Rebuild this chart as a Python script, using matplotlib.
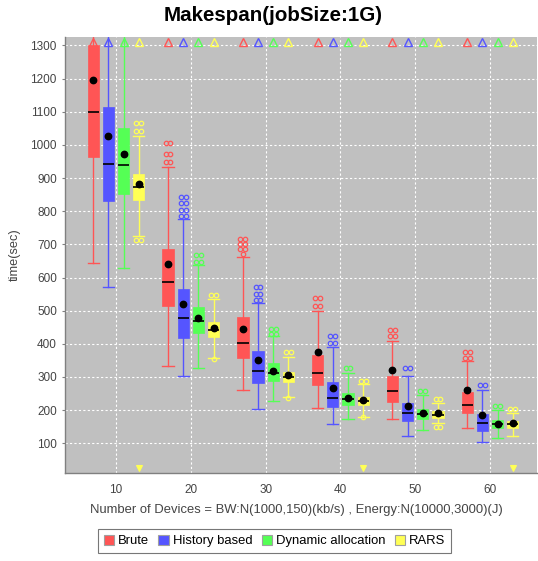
import matplotlib
matplotlib.use('Agg')
import matplotlib.pyplot as plt
from matplotlib.patches import Patch

plt.rcParams['font.family'] = ['Liberation Sans', 'DejaVu Sans']

categories = [10, 20, 30, 40, 50, 60]
series = ['Brute', 'History based', 'Dynamic allocation', 'RARS']
colors = ['#ff5555', '#5555ff', '#55ff55', '#ffff55']

# box statistics, one row per series, one value per category
q1 = [[964, 515, 357, 276, 225, 192],
      [831, 418, 281, 210, 168, 138],
      [851, 432, 288, 217, 173, 147],
      [834, 421, 284, 217, 175, 145]]
median = [[1098, 587, 404, 311, 257, 217],
          [943, 477, 318, 237, 190, 160],
          [939, 470, 311, 235, 187, 158],
          [874, 441, 301, 227, 185, 158]]
q3 = [[1300, 685, 480, 365, 303, 255],
      [1115, 564, 379, 284, 223, 188],
      [1052, 512, 341, 253, 203, 170],
      [913, 465, 314, 240, 197, 167]]
mean = [[1196, 641, 444, 375, 321, 260],
        [1027, 520, 351, 266, 212, 185],
        [972, 479, 318, 238, 190, 158],
        [881, 448, 306, 232, 190, 160]]
whis_lo = [[644, 334, 260, 207, 173, 147],
           [570, 304, 203, 157, 123, 103],
           [630, 328, 227, 173, 140, 117],
           [725, 356, 240, 180, 160, 123]]
whis_hi = [[1400, 932, 661, 500, 408, 348],
           [1400, 776, 524, 391, 304, 260],
           [1400, 638, 423, 311, 247, 200],
           [1027, 534, 361, 278, 222, 190]]

# outlier clusters (drawn as double circles) and single outliers
outliers = [[[], [1005, 972, 948], [716, 701, 686], [537, 514], [442, 423], [374, 356]],
            [[], [844, 824, 804, 787], [572, 549, 532], [424, 404], [326], [276]],
            [[], [668, 648], [444, 431], [326], [258], [213]],
            [[1065, 1043, 713], [547], [374], [289], [235, 148], [202]]]
single_outliers = [[[], [], [671], [], [], []],
                   [[], [], [], [], [], []],
                   [[], [], [], [], [], []],
                   [[], [353], [238], [178], [], []]]

# far outliers beyond the axis range
far_above = [[10, 20, 30, 40, 50, 60]] * 4
far_below = [[], [], [], [10, 40, 60]]

fig = plt.figure(figsize=(5.38, 5.61), dpi=100)
ax = fig.add_axes([64.5 / 538, 1 - 473.3 / 561, (537 - 64.5) / 538, (473.3 - 36.7) / 561])
ax.set_facecolor('#c0c0c0')

step = 0.203
width = 0.151
offsets = [(i - 1.5) * step for i in range(4)]

for s in range(4):
    stats = []
    for c in range(len(categories)):
        stats.append({'q1': q1[s][c], 'med': median[s][c], 'q3': q3[s][c],
                      'mean': mean[s][c], 'whislo': whis_lo[s][c], 'whishi': whis_hi[s][c],
                      'fliers': []})
    pos = [c + offsets[s] for c in range(len(categories))]
    ax.bxp(stats, positions=pos, widths=width, capwidths=width, patch_artist=True,
           showmeans=True, showfliers=False, manage_ticks=False,
           boxprops=dict(facecolor=colors[s], edgecolor=colors[s], linewidth=0.5),
           whiskerprops=dict(color=colors[s], linewidth=1.0),
           capprops=dict(color=colors[s], linewidth=1.0),
           medianprops=dict(color='black', linewidth=1.2),
           meanprops=dict(marker='o', markerfacecolor='black', markeredgecolor='black',
                          markersize=4.6),
           zorder=3)

    for c in range(len(categories)):
        x = c + offsets[s]
        for v in outliers[s][c]:
            ax.plot([x - 0.032, x + 0.032], [v, v], 'o', ms=3.2, mfc='none',
                    mec=colors[s], mew=0.9, zorder=4)
        for v in single_outliers[s][c]:
            ax.plot(x, v, 'o', ms=3.2, mfc='none', mec=colors[s], mew=0.9, zorder=4)

    tr = ax.get_xaxis_transform()
    for cat in far_above[s]:
        ax.plot(categories.index(cat) + offsets[s], 0.989, '^', ms=5.3, mfc='none',
                mec=colors[s], mew=1.0, transform=tr, clip_on=False, zorder=5)
    for cat in far_below[s]:
        ax.plot(categories.index(cat) + offsets[s], 0.011, 'v', ms=4, mfc=colors[s],
                mec=colors[s], mew=0.8, transform=tr, clip_on=False, zorder=5)

ax.set_xlim(-0.689, 5.628)
ax.set_ylim(9.5, 1326.5)
ax.set_xticks(range(len(categories)))
ax.set_xticklabels([str(c) for c in categories])
ax.set_yticks(range(100, 1301, 100))
ax.grid(True, color='white', linestyle=(0, (2, 2)), linewidth=0.8, zorder=0)
ax.set_axisbelow(True)
ax.tick_params(axis='x', length=0, pad=8, labelsize=8.5, colors='#444444')
ax.tick_params(axis='y', length=2.5, width=0.8, pad=3, labelsize=8.5,
               colors='#808080', labelcolor='#444444')
for side in ['top', 'right']:
    ax.spines[side].set_visible(False)
for side in ['left', 'bottom']:
    ax.spines[side].set_color('#808080')
    ax.spines[side].set_linewidth(1.0)

fig.text(273 / 538, 1 - 15.5 / 561, 'Makespan(jobSize:1G)', ha='center', va='center',
         fontsize=14.8, fontweight='bold')
fig.text(15 / 538, 1 - 255 / 561, 'time(sec)', rotation=90, ha='center', va='center',
         fontsize=9.2, color='#444444')
fig.text(296 / 538, 1 - 510 / 561,
         'Number of Devices = BW:N(1000,150)(kb/s) , Energy:N(10000,3000)(J)',
         ha='center', va='center', fontsize=9.4, color='#444444')

handles = [Patch(facecolor=colors[s], edgecolor='#a0a0a0', linewidth=0.8) for s in range(4)]
leg = fig.legend(handles, series, loc='center', bbox_to_anchor=(274.5 / 538, 1 - 541 / 561),
                 ncol=4, fontsize=9.4, frameon=True, fancybox=False, handlelength=0.8,
                 handleheight=0.8, handletextpad=0.3, columnspacing=0.7,
                 borderpad=0.45, borderaxespad=0)
leg.get_frame().set_edgecolor('#555555')
leg.get_frame().set_linewidth(0.8)

fig.savefig('out.png', dpi=100)
